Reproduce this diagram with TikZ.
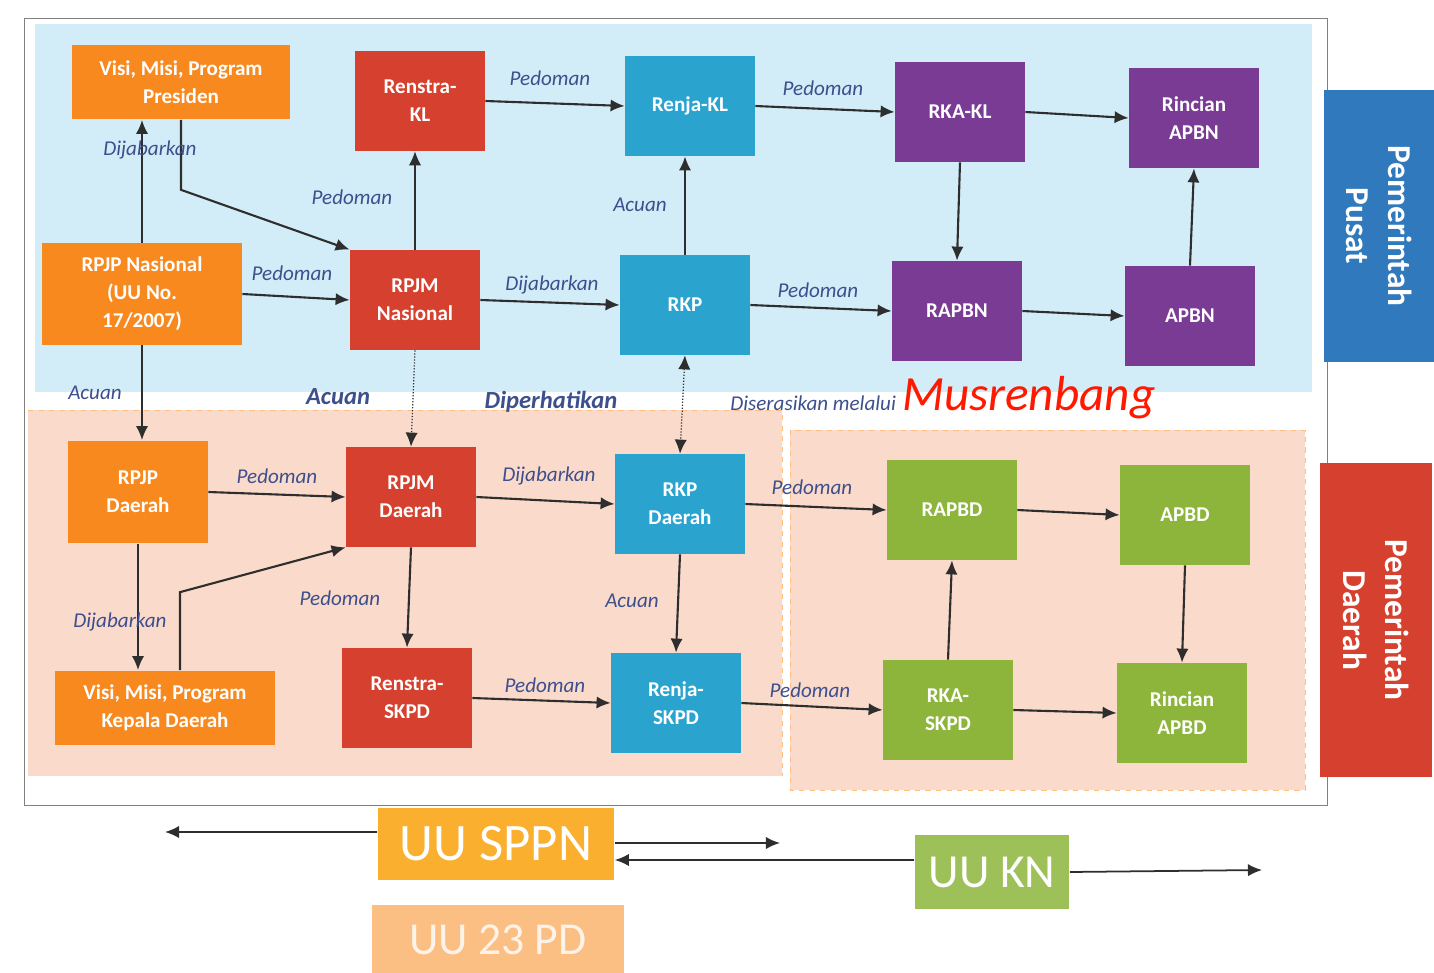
\documentclass[tikz,border=0pt]{standalone}
\usepackage{fontspec}
\setmainfont{Carlito}
\usetikzlibrary{arrows.meta}
\definecolor{jingga}{HTML}{F7891E}
\definecolor{merah}{HTML}{D5412E}
\definecolor{biru}{HTML}{2BA3CF}
\definecolor{ungu}{HTML}{7A3B95}
\definecolor{hijau}{HTML}{8DB53B}
\definecolor{pusat}{HTML}{3079BD}
\definecolor{langit}{HTML}{D3EDF8}
\definecolor{persik}{HTML}{FADACA}
\definecolor{teks}{HTML}{3D4F8C}
\definecolor{garis}{HTML}{2E2E2E}
\begin{document}
\begin{tikzpicture}[x=0.02cm,y=-0.02cm,>={Latex[length=8pt,width=7pt]},
  bx/.style={minimum width=2.6cm,minimum height=2cm,inner sep=1pt,align=center,text=white,font=\bfseries\fontsize{12}{16}\selectfont},
  lb/.style={font=\itshape\fontsize{12}{14}\selectfont,text=teks,inner sep=1pt},
  ar/.style={->,line width=1.2pt,draw=garis},
  uu/.style={text=white,inner sep=0pt,font=\fontsize{30}{32}\selectfont}]
\useasboundingbox (0,0) rectangle (1434,973);
% latar
\fill[langit] (35,24) rectangle (1312,392);
\fill[persik] (28,410) rectangle (782,776);
\fill[persik] (790,430) rectangle (1305,790);
\draw[orange!50,dashed] (28,410) -- (782,410) -- (782,776);
\draw[orange!50,dashed] (790,430) rectangle (1305,790);
\draw[gray] (24,18) rectangle (1327,805);
% pemerintah pusat
\node[bx,fill=jingga,minimum width=4.36cm,minimum height=1.5cm] (vmp) at (181,82) {Visi, Misi, Program\\Presiden};
\node[bx,fill=merah] (renkl) at (420,101) {Renstra-\\KL};
\node[bx,fill=biru] (renjakl) at (690,106) {Renja-KL};
\node[bx,fill=ungu] (rkakl) at (960,112) {RKA-KL};
\node[bx,fill=ungu] (rinapbn) at (1194,118) {Rincian\\APBN};
\node[bx,fill=jingga,minimum width=4cm,minimum height=2.04cm] (rpjpn) at (142,294) {RPJP Nasional\\(UU No.\\17/2007)};
\node[bx,fill=merah] (rpjmn) at (415,300) {RPJM\\Nasional};
\node[bx,fill=biru] (rkp) at (685,305) {RKP};
\node[bx,fill=ungu] (rapbn) at (957,311) {RAPBN};
\node[bx,fill=ungu] (apbn) at (1190,316) {APBN};
% pemerintah daerah
\node[bx,fill=jingga,minimum width=2.8cm,minimum height=2.06cm] (rpjpd) at (138,492) {RPJP\\Daerah};
\node[bx,fill=merah] (rpjmd) at (411,497) {RPJM\\Daerah};
\node[bx,fill=biru] (rkpd) at (680,504) {RKP\\Daerah};
\node[bx,fill=hijau] (rapbd) at (952,510) {RAPBD};
\node[bx,fill=hijau] (apbd) at (1185,515) {APBD};
\node[bx,fill=jingga,minimum width=4.4cm,minimum height=1.5cm] (vmk) at (165,708) {Visi, Misi, Program\\Kepala Daerah};
\node[bx,fill=merah] (renskpd) at (407,698) {Renstra-\\SKPD};
\node[bx,fill=biru] (renjaskpd) at (676,703) {Renja-\\SKPD};
\node[bx,fill=hijau] (rkaskpd) at (948,710) {RKA-\\SKPD};
\node[bx,fill=hijau] (rinapbd) at (1182,713) {Rincian\\APBD};
% kotak samping
\node[fill=pusat,rotate=-90,minimum width=5.44cm,minimum height=2.22cm,align=center,text=white,
  font=\bfseries\fontsize{19}{24}\selectfont] (pp) at (1379,226) {Pemerintah\\Pusat};
\node[fill=merah,rotate=-90,minimum width=6.3cm,minimum height=2.24cm,align=center,text=white,
  font=\bfseries\fontsize{19}{24}\selectfont] (pd) at (1376,620) {Pemerintah\\Daerah};
% panah pusat
\draw[ar] (rpjpn.north) -- (rpjpn.north |- vmp.south);
\draw[ar] (vmp.south) -- ++(0,70) -- (rpjmn.north west);
\draw[ar] (rpjpn.east) -- (rpjmn.west);
\draw[->,line width=.7pt,draw=garis] (rpjmn.north) -- (rpjmn.north |- renkl.south);
\draw[ar] (renkl.east) -- (renjakl.west);
\draw[ar] (rpjmn.east) -- (rkp.west);
\draw[ar] (rkp.north) -- (rkp.north |- renjakl.south);
\draw[ar] (renjakl.east) -- (rkakl.west);
\draw[ar] (rkp.east) -- (rapbn.west);
\draw[ar] (rkakl.east) -- (rinapbn.west);
\draw[ar] (rkakl.south) -- (rapbn.north);
\draw[ar] (rapbn.east) -- (apbn.west);
\draw[ar] (apbn.north) -- (rinapbn.south);
\draw[ar] (rpjpn.south) -- (rpjpn.south |- rpjpd.north);
\draw[->,line width=.7pt,draw=garis,densely dotted] (rpjmn.south) -- (rpjmd.north);
\draw[<->,line width=.7pt,draw=garis,densely dotted] (rkp.south) -- (rkpd.north);
% panah daerah
\draw[ar] (rpjpd.east) -- (rpjmd.west);
\draw[ar] (rpjpd.south) -- (rpjpd.south |- vmk.north);
\draw[ar] ([xshift=.3cm]vmk.north) -- ++(0,-78) -- (rpjmd.south west);
\draw[ar] (rpjmd.east) -- (rkpd.west);
\draw[ar] (rpjmd.south) -- (renskpd.north);
\draw[ar] (rkpd.south) -- (renjaskpd.north);
\draw[ar] (renskpd.east) -- (renjaskpd.west);
\draw[ar] (rkpd.east) -- (rapbd.west);
\draw[ar] (renjaskpd.east) -- (rkaskpd.west);
\draw[ar] (rapbd.east) -- (apbd.west);
\draw[ar] (rkaskpd.north) -- (rapbd.south);
\draw[ar] (apbd.south) -- (rinapbd.north);
\draw[ar] (rkaskpd.east) -- (rinapbd.west);
% label
\node[lb] (l1) at (150,150) {Dijabarkan};
\node[lb] (l2) at (352,197) {Pedoman};
\node[lb] (l3) at (292,273) {Pedoman};
\node[lb] (l4) at (550,78) {Pedoman};
\node[lb] (l5) at (552,285) {Dijabarkan};
\node[lb] (l6) at (640,205) {Acuan};
\node[lb] (l7) at (823,88) {Pedoman};
\node[lb] (l8) at (818,290) {Pedoman};
\node[lb] (l9) at (95,393) {Acuan};
\node[lb,font=\bfseries\itshape\fontsize{14}{16}\selectfont] (l10) at (338,397) {Acuan};
\node[lb,font=\bfseries\itshape\fontsize{14}{16}\selectfont] (l11) at (551,402) {Diperhatikan};
\node[lb,anchor=east] (l12) at (898,403) {Diserasikan melalui};
\node[anchor=west,inner sep=1pt,text=red!80!orange,font=\itshape\fontsize{28}{30}\selectfont] (musren) at (900,398) {Musrenbang};
\node[lb] (l13) at (277,476) {Pedoman};
\node[lb] (l14) at (120,622) {Dijabarkan};
\node[lb] (l15) at (340,598) {Pedoman};
\node[lb] (l16) at (549,476) {Dijabarkan};
\node[lb] (l17) at (632,601) {Acuan};
\node[lb] (l18) at (545,685) {Pedoman};
\node[lb] (l19) at (812,487) {Pedoman};
\node[lb] (l20) at (810,690) {Pedoman};
% undang-undang
\node[uu,fill=jingga!75!yellow!90!white,minimum width=4.74cm,minimum height=1.44cm] (sppn) at (496,844) {UU SPPN};
\node[uu,fill=jingga!55,text=white!90!jingga,minimum width=5.06cm,minimum height=1.4cm,font=\fontsize{26}{28}\selectfont] (pd23) at (498,940) {UU 23 PD};
\node[uu,fill=hijau!85!white,minimum width=3.1cm,minimum height=1.5cm,font=\fontsize{27}{29}\selectfont] (uukn) at (992,872) {UU KN};
\coordinate (kiri) at (165,832);
\coordinate (kanan) at (780,843);
\coordinate (ujung) at (1262,870);
\draw[->,line width=1pt,draw=garis] ([yshift=.24cm]sppn.west) -- (kiri);
\draw[->,line width=1pt,draw=garis] ([yshift=.02cm]sppn.east) -- (kanan);
\draw[->,line width=1pt,draw=garis] ([yshift=.24cm]uukn.west) -- ([yshift=-.32cm]sppn.east);
\draw[->,line width=1pt,draw=garis] (uukn.east) -- (ujung);
\end{tikzpicture}
\end{document}
